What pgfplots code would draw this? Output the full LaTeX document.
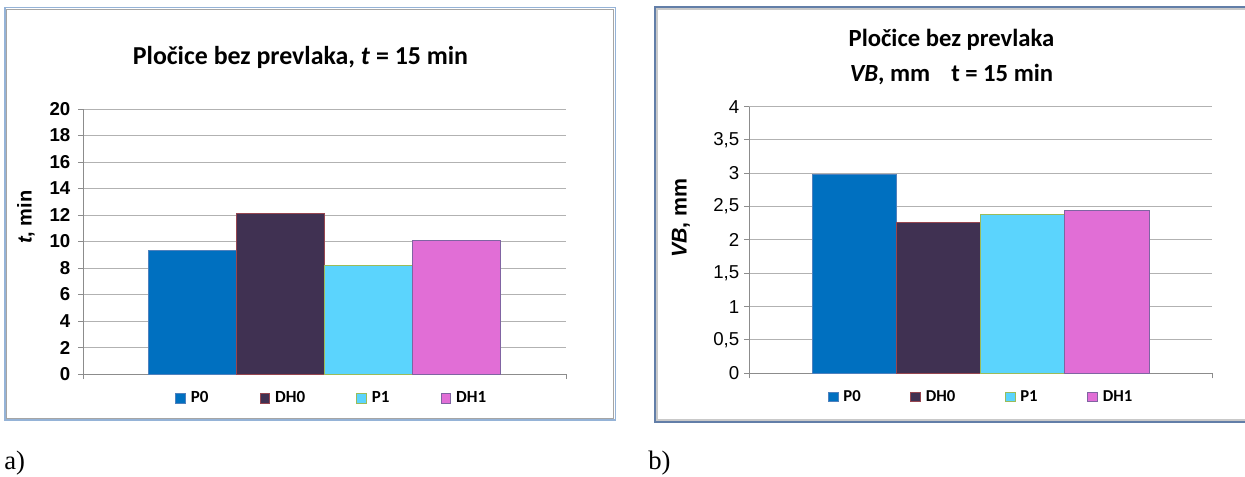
\documentclass[border=0pt]{standalone}
\usepackage{pgfplots}
\pgfplotsset{compat=1.18}
\usepackage{fontspec}
\setmainfont{Carlito}
\newfontfamily\arial{Liberation Sans}
\newfontfamily\timesf{Liberation Serif}
\definecolor{cP0}{RGB}{0,112,192}
\definecolor{cDH0}{RGB}{64,49,82}
\definecolor{cP1}{RGB}{91,212,253}
\definecolor{cDH1}{RGB}{225,110,214}
\definecolor{oP0}{RGB}{79,129,189}
\definecolor{oDH0}{RGB}{150,70,80}
\definecolor{oP1}{RGB}{155,187,89}
\definecolor{oDH1}{RGB}{128,100,162}
\definecolor{gridgray}{RGB}{178,178,178}
\definecolor{axisgray}{RGB}{140,140,140}
\definecolor{frameA}{RGB}{149,179,215}
\definecolor{frameB}{RGB}{98,126,168}
\definecolor{frameIn}{RGB}{165,165,165}
\pgfplotsset{
  common/.style={
    scale only axis, anchor=south west,
    axis lines*=left,
    axis line style={draw=axisgray, line width=0.75pt},
    tick style={draw=axisgray, line width=0.75pt},
    tick align=outside, major tick length=3.75pt,
    ymajorgrids, grid style={draw=gridgray, line width=0.75pt},
    xticklabels={},
    /pgf/number format/assume math mode=true,
    legend cell align=left,
    legend image code/.code={\draw[##1, line width=0.4pt] (0pt,-3.6pt) rectangle (7.2pt,3.6pt);},
    clip=false,
  },
  barst/.style={ybar, bar width=1, bar shift=0pt, line width=0.4pt},
}
\begin{document}
\begin{tikzpicture}[x=0.75pt,y=0.75pt]
\path[use as bounding box] (0,0) rectangle (1245,476);
% frames
\draw[frameA, line width=1.3pt] (4.8,468.5) rectangle (615.5,55.8);
\draw[frameIn, line width=1pt] (6.8,466.5) rectangle (613.5,57.8);
\draw[frameB, line width=1.3pt] (655,469) rectangle (1262,54);
\draw[frameIn!60, line width=1pt] (657,467) rectangle (1262,56);
% titles
\node[font=\bfseries\fontsize{19.4}{22}\selectfont] at (300.5,419) {Pločice bez prevlaka, \textit{t} = 15 min};
\node[font=\bfseries\fontsize{18.5}{22}\selectfont] at (951.5,436) {Pločice bez prevlaka};
\node[font=\bfseries\fontsize{18.5}{22}\selectfont] at (951.5,401) {\textit{VB}, mm\hspace{0.85em}t = 15 min};
% a) b)
\node[font=\timesf\fontsize{20}{22}\selectfont, anchor=base west, inner sep=0pt] at (4,7) {a)};
\node[font=\timesf\fontsize{20}{22}\selectfont, anchor=base west, inner sep=0pt] at (648,7) {b)};

\begin{axis}[common,
  at={(62.25pt,76.5pt)}, width=362.25pt, height=198.75pt,
  xmin=-2.745, xmax=2.745, xtick={-2.745,2.745},
  ymin=0, ymax=20, ytick={0,2,...,20},
  yticklabel style={font=\arial\bfseries\fontsize{14}{16}\selectfont, xshift=-2.2pt},
  ylabel={\textit{t}, min},
  ylabel style={font=\arial\bfseries\fontsize{15}{17}\selectfont, at={(axis description cs:-0.118,0.592)}, anchor=center},
  legend style={draw=none, fill=none, legend columns=4, inner sep=0pt,
    font=\bfseries\fontsize{12.75}{14}\selectfont,
    at={(axis description cs:0.1905,-0.0906)}, anchor=west,
    /tikz/every odd column/.append style={column sep=2pt},
    /tikz/every even column/.append style={column sep=36.4pt}},
]
\addplot[barst, fill=cP0, draw=oP0] coordinates {(-1.5,9.31)};
\addlegendentry{P0}
\addplot[barst, fill=cDH0, draw=oDH0] coordinates {(-0.5,12.1)};
\addlegendentry{DH0}
\addplot[barst, fill=cP1, draw=oP1] coordinates {(0.5,8.17)};
\addlegendentry{P1}
\addplot[barst, fill=cDH1, draw=oDH1] coordinates {(1.5,10.06)};
\addlegendentry{DH1}
\end{axis}

\begin{axis}[common,
  at={(561.75pt,77.025pt)}, width=347.25pt, height=200pt,
  xmin=-2.75, xmax=2.75, xtick={-2.75,2.75},
  ymin=0, ymax=4, ytick={0,0.5,...,4},
  yticklabels={0,{0,5},1,{1,5},2,{2,5},3,{3,5},4},
  yticklabel style={font=\arial\fontsize{14}{16}\selectfont},
  ylabel={\textit{VB}, mm},
  ylabel style={font=\arial\bfseries\fontsize{16}{18}\selectfont, at={(axis description cs:-0.147,0.582)}, anchor=center},
  legend style={draw=none, fill=none, legend columns=4, inner sep=0pt,
    font=\bfseries\fontsize{12.5}{14}\selectfont,
    at={(axis description cs:0.1700,-0.088)}, anchor=west,
    /tikz/every odd column/.append style={column sep=2pt},
    /tikz/every even column/.append style={column sep=35.2pt}},
]
\addplot[barst, fill=cP0, draw=oP0] coordinates {(-1.5,2.985)};
\addlegendentry{P0}
\addplot[barst, fill=cDH0, draw=oDH0] coordinates {(-0.5,2.26)};
\addlegendentry{DH0}
\addplot[barst, fill=cP1, draw=oP1] coordinates {(0.5,2.385)};
\addlegendentry{P1}
\addplot[barst, fill=cDH1, draw=oDH1] coordinates {(1.5,2.445)};
\addlegendentry{DH1}
\end{axis}
\end{tikzpicture}
\end{document}
